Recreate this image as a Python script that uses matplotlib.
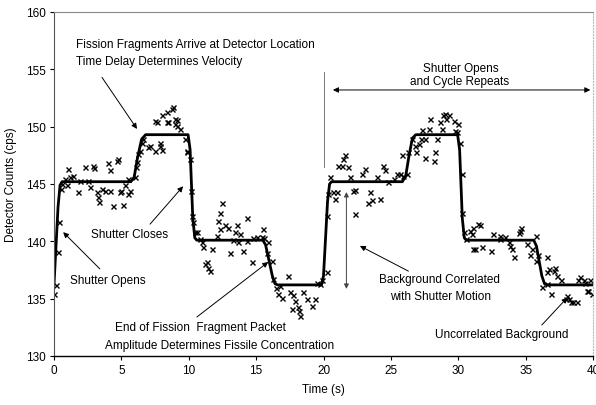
import numpy as np
import matplotlib
matplotlib.use('Agg')
import matplotlib.pyplot as plt

plt.rcParams['font.family'] = ['Liberation Sans', 'DejaVu Sans']

# fitted shutter response (s, cps)
fit_t = [0, 0.1, 0.3, 0.45, 0.6, 5.7, 5.95, 6.2, 6.5, 6.8, 9.95, 10.1, 10.3, 10.45, 10.6,
         15.5, 15.7, 16.2, 16.4, 16.6, 19.85, 20.0, 20.3, 20.45, 20.6, 25.85, 26.1, 26.35,
         26.6, 26.85, 29.95, 30.1, 30.3, 30.45, 30.6, 35.6, 35.8, 36.2, 36.4, 36.6, 40]
fit_y = [136.2, 138.5, 143.0, 144.9, 145.2, 145.2, 145.6, 147.3, 148.9, 149.3, 149.3, 148.0,
         142.0, 140.3, 140.1, 140.1, 139.7, 137.0, 136.3, 136.2, 136.2, 137.0, 143.5, 145.0,
         145.2, 145.2, 145.7, 147.5, 149.0, 149.3, 149.3, 148.0, 142.0, 140.3, 140.1, 140.1,
         139.6, 137.0, 136.3, 136.2, 136.2]

# measured counts
meas = [
    (0.02, 135.4), (0.15, 136.2), (0.3, 139.1), (0.4, 141.7), (0.5, 144.6),
    (0.57, 145.0), (0.82, 145.4), (0.94, 144.9), (1.06, 146.3), (1.19, 145.6), (1.43, 145.7),
    (1.81, 144.3), (1.93, 145.3), (2.3, 146.5), (2.55, 145.3), (2.67, 144.7), (2.92, 146.6),
    (3.0, 146.4), (3.17, 144.3), (3.27, 143.9), (3.35, 143.4), (3.54, 144.6), (3.79, 144.4),
    (4.0, 146.8), (4.16, 146.2), (4.16, 144.4), (4.38, 143.1), (4.7, 147.0), (4.78, 147.2),
    (4.9, 144.3), (5.0, 144.4), (5.15, 143.2), (5.27, 144.9), (5.5, 145.4), (5.5, 144.1),
    (5.64, 144.4), (6.0, 145.6), (6.1, 146.5), (6.15, 146.9), (6.26, 147.6), (6.38, 147.9),
    (6.5, 148.6), (6.6, 148.9),
    (7.0, 148.2), (7.13, 148.3), (7.5, 147.9), (7.87, 148.3), (7.87, 148.6), (8.0, 148.0),
    (7.5, 150.5), (7.62, 150.4), (8.0, 151.0), (8.37, 150.4), (8.37, 151.3), (8.47, 150.4),
    (8.74, 151.5), (8.85, 151.7), (9.0, 150.2), (9.0, 150.7), (9.1, 150.1), (9.1, 150.6),
    (9.35, 149.8), (9.73, 148.9), (9.85, 147.8), (9.9, 147.9), (10.1, 147.2),
    (10.2, 144.4), (10.22, 142.2), (10.34, 141.7), (10.47, 140.8),
    (10.6, 140.8), (10.84, 140.2), (10.96, 139.9), (11.07, 139.5), (11.2, 138.0), (11.34, 138.2),
    (11.46, 137.7), (11.58, 137.4), (11.7, 139.3), (12.08, 140.5), (12.2, 141.8), (12.32, 142.5),
    (12.32, 141.1), (12.45, 143.3), (12.7, 141.4), (12.94, 141.2), (13.07, 139.0), (13.3, 140.1),
    (13.44, 140.8), (13.56, 141.4), (13.68, 139.9), (13.8, 140.6), (14.05, 139.2), (14.3, 142.0),
    (14.3, 140.0), (14.68, 138.2), (14.75, 140.3), (15.05, 140.4), (15.4, 140.4), (15.54, 141.1),
    (15.6, 140.3), (15.8, 139.0), (15.9, 139.9),
    (16.15, 138.3), (16.27, 136.7),
    (16.5, 135.9), (16.65, 135.4), (16.8, 136.1), (16.9, 135.1), (17.4, 137.0), (17.5, 135.6),
    (17.65, 134.1), (17.77, 135.3), (17.9, 134.8), (18.1, 134.3), (18.2, 133.9), (18.26, 133.5),
    (18.5, 135.6), (18.76, 135.0), (19.13, 134.4), (19.38, 135.0), (19.5, 136.4), (19.75, 136.3),
    (19.87, 136.6),
    (20.25, 137.3), (20.25, 142.2), (20.37, 144.1),
    (20.5, 145.6), (20.74, 144.3), (20.86, 143.7), (20.98, 144.3), (21.1, 146.6), (21.36, 146.6),
    (21.48, 147.2), (21.6, 147.5), (21.85, 146.5), (22.0, 145.6), (22.2, 144.4), (22.3, 144.5),
    (22.35, 142.4), (22.84, 145.9), (23.1, 146.3), (23.3, 143.3), (23.46, 144.3), (23.6, 143.6),
    (23.95, 145.6), (24.2, 143.7), (24.45, 146.6), (24.6, 146.2), (24.8, 145.2), (25.2, 145.4),
    (25.44, 145.9), (25.7, 145.9), (25.8, 147.5), (25.9, 145.7), (26.2, 145.9), (26.3, 147.8),
    (26.55, 148.9), (26.8, 148.3), (26.9, 147.8), (27.05, 148.5), (27.2, 148.9), (27.5, 148.9),
    (27.55, 147.3), (28.17, 147.0), (28.3, 147.8), (28.4, 148.9),
    (27.3, 149.7), (27.8, 149.8), (27.9, 150.7), (28.65, 150.4), (28.8, 149.8), (28.9, 151.0),
    (29.0, 151.1), (29.1, 150.7), (29.3, 151.0), (29.65, 150.5), (29.77, 149.6), (30.0, 150.2),
    (29.9, 149.5), (30.1, 148.6),
    (30.26, 145.9), (30.27, 142.5),
    (30.4, 140.8), (30.6, 140.2), (30.88, 140.9), (31.0, 140.6), (31.1, 141.2), (31.1, 139.3),
    (31.26, 139.3), (31.5, 141.5), (31.6, 141.4), (31.75, 139.5), (32.4, 139.2), (32.6, 140.6),
    (33.1, 140.5), (33.1, 140.2), (33.5, 140.4), (33.74, 139.9), (33.85, 139.6), (34.0, 139.3),
    (34.1, 138.6), (34.5, 140.7), (34.6, 140.9), (34.65, 141.2), (35.1, 139.8), (35.35, 138.8),
    (35.5, 139.3), (35.8, 140.5), (35.8, 138.3), (35.95, 138.8),
    (36.2, 136.0), (36.55, 136.3), (36.6, 138.6), (36.6, 137.3), (36.7, 137.6), (36.9, 135.4),
    (37.1, 137.4), (37.2, 137.7), (37.3, 137.0), (37.6, 136.6),
    (38.0, 135.0), (38.1, 135.2), (38.2, 135.0), (38.4, 134.7), (38.55, 134.7), (38.8, 134.7),
    (38.9, 136.6), (39.05, 136.9), (39.3, 136.6), (39.4, 136.4), (39.55, 135.7), (39.65, 135.7),
    (39.8, 136.6), (39.9, 135.4),
]
meas_t = [p[0] for p in meas]
meas_y = [p[1] for p in meas]

fig = plt.figure(figsize=(5.96, 4.06), dpi=100)
ax = fig.add_axes([0.0906, 0.1207, 0.9044, 0.8473])

ax.plot(meas_t, meas_y, linestyle='none', marker='x', color='black',
        markersize=3.6, markeredgewidth=1.0)
ax.plot(fit_t, fit_y, color='black', linewidth=2.0)

ax.set_xlim(0, 40)
ax.set_ylim(130, 160)
ax.set_xticks(np.arange(0, 41, 5))
ax.set_yticks(np.arange(130, 161, 5))
ax.tick_params(direction='out', length=3, width=0.8, labelsize=8.5, pad=3)
ax.set_xlabel('Time (s)', fontsize=8.5, labelpad=5)
ax.set_ylabel('Detector Counts (cps)', fontsize=8.5, labelpad=6)

ax.spines['top'].set_color('#888888')
ax.spines['top'].set_linewidth(0.8)
ax.spines['right'].set_color('#bbbbbb')
ax.spines['right'].set_linestyle(':')
ax.spines['right'].set_linewidth(0.8)
ax.spines['left'].set_color('#555555')
ax.spines['left'].set_linewidth(0.8)
ax.spines['bottom'].set_linewidth(1.0)

fs = 8.5
arrow = dict(arrowstyle='-|>', color='black', lw=0.7, mutation_scale=8,
             shrinkA=0, shrinkB=0)

ax.text(1.65, 157.2, 'Fission Fragments Arrive at Detector Location', fontsize=fs,
        ha='left', va='center')
ax.text(1.65, 155.7, 'Time Delay Determines Velocity', fontsize=fs,
        ha='left', va='center')
ax.annotate('', xy=(6.16, 149.8), xytext=(3.56, 154.3), arrowprops=arrow)

ax.text(5.64, 140.6, 'Shutter Closes', fontsize=fs, ha='center', va='center')
ax.annotate('', xy=(9.58, 144.8), xytext=(7.13, 141.5), arrowprops=arrow)

ax.text(4.0, 136.6, 'Shutter Opens', fontsize=fs, ha='center', va='center')
ax.annotate('', xy=(0.68, 140.8), xytext=(3.4, 137.6), arrowprops=arrow)

ax.text(10.85, 132.5, 'End of Fission  Fragment Packet', fontsize=fs, ha='center', va='center')
ax.text(12.25, 131.0, 'Amplitude Determines Fissile Concentration', fontsize=fs,
        ha='center', va='center')
ax.annotate('', xy=(15.9, 138.2), xytext=(10.6, 133.4), arrowprops=arrow)

# cycle repeat marker
ax.plot([20.05, 20.05], [146.5, 154.8], color='#777777', linewidth=0.7)
ax.annotate('', xy=(20.7, 153.2), xytext=(39.8, 153.2),
            arrowprops=dict(arrowstyle='<|-|>', color='black', lw=0.7, mutation_scale=8,
                            shrinkA=0, shrinkB=0))
ax.text(30.2, 155.1, 'Shutter Opens', fontsize=fs, ha='center', va='center')
ax.text(30.1, 154.0, 'and Cycle Repeats', fontsize=fs, ha='center', va='center')

ax.annotate('', xy=(21.7, 135.85), xytext=(21.7, 144.3),
            arrowprops=dict(arrowstyle='<|-|>', color='#444444', lw=0.7, mutation_scale=7,
                            shrinkA=0, shrinkB=0))
ax.text(28.6, 136.7, 'Background Correlated', fontsize=fs, ha='center', va='center')
ax.text(28.7, 135.2, 'with Shutter Motion', fontsize=fs, ha='center', va='center')
ax.annotate('', xy=(22.7, 139.6), xytext=(26.3, 137.4), arrowprops=arrow)

ax.text(33.2, 131.9, 'Uncorrelated Background', fontsize=fs, ha='center', va='center')
ax.annotate('', xy=(38.1, 135.1), xytext=(36.2, 132.7), arrowprops=arrow)

fig.savefig('out.png', dpi=100)
